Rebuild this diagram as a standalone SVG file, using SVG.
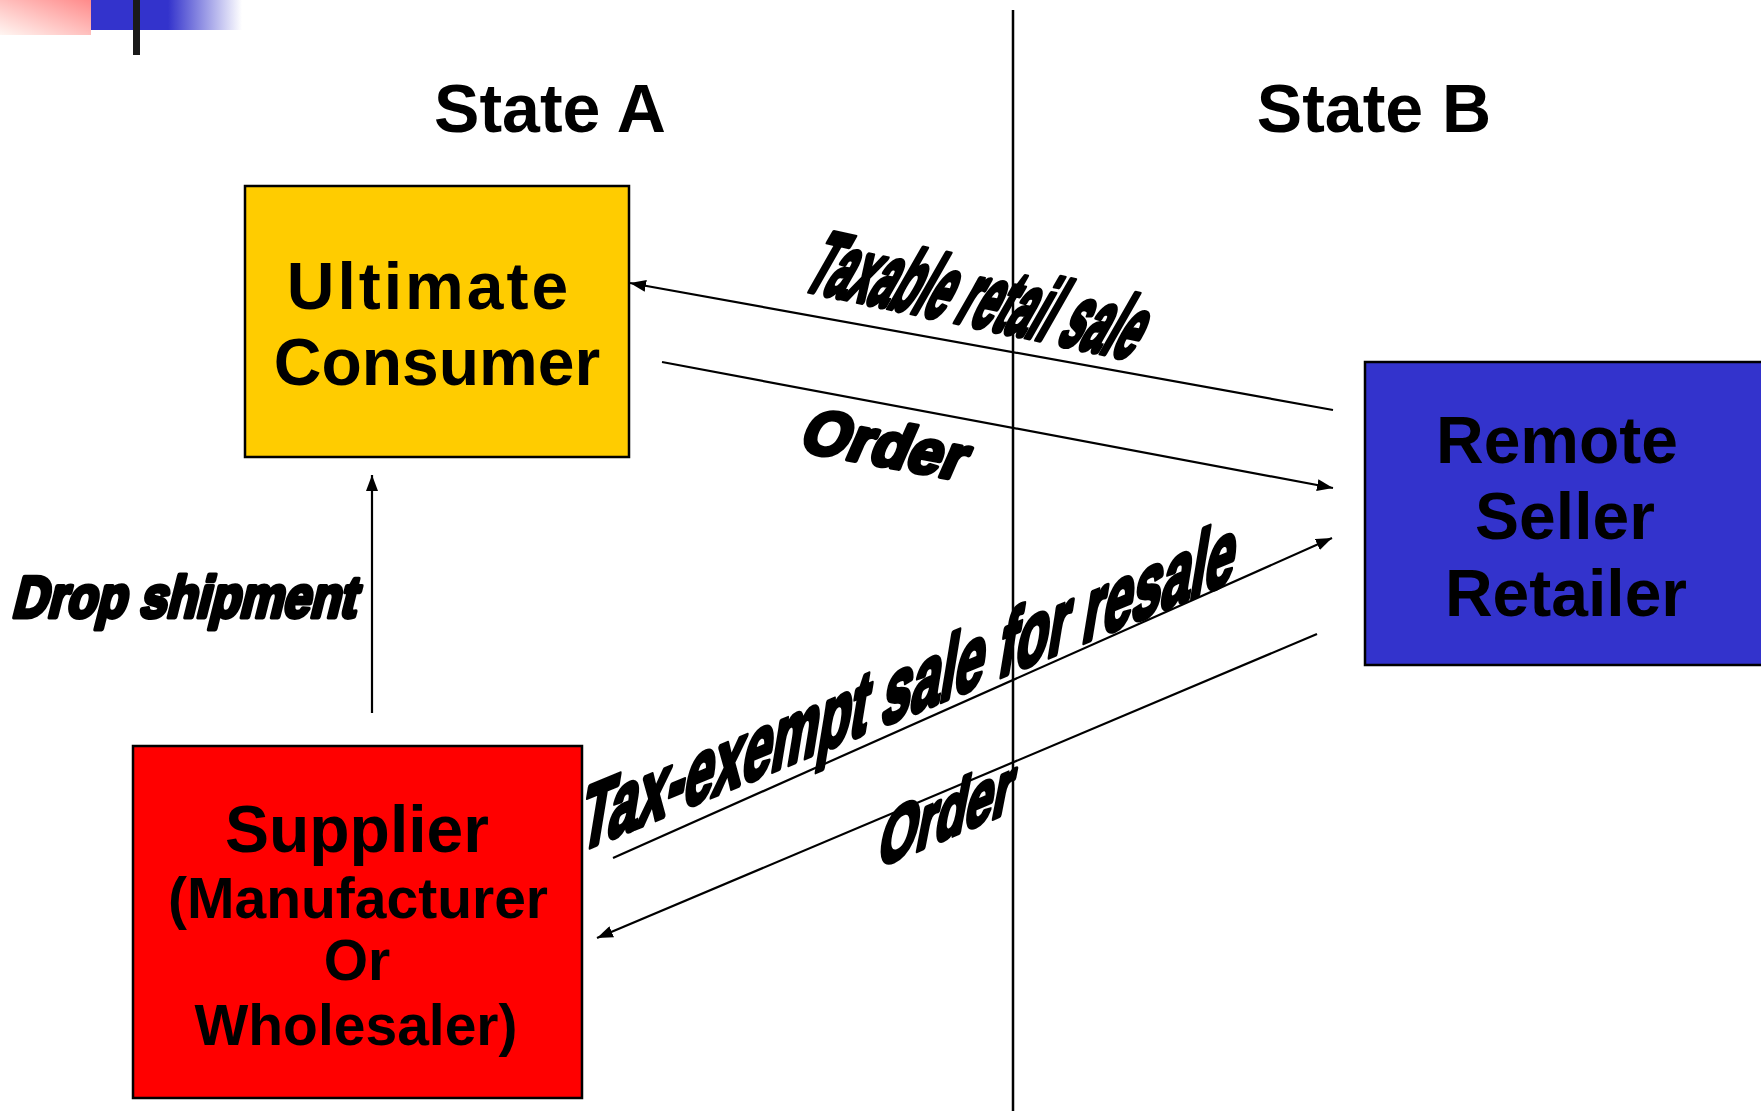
<svg xmlns="http://www.w3.org/2000/svg" width="1761" height="1111" viewBox="0 0 1761 1111">
<style>
.box{stroke:#000;stroke-width:2.5}
.t{font-family:"Liberation Sans",Arial,sans-serif;font-weight:bold;fill:#000;text-anchor:middle}
.big{font-size:66px}
.mid{font-size:57px}
.wa{font-family:"Liberation Sans",Arial,sans-serif;font-weight:bold;fill:#000;stroke:#000;stroke-width:4.5;stroke-linejoin:round;vector-effect:non-scaling-stroke}
.c{stroke:#000;stroke-width:2.2;fill:none}
</style>
<defs>
<linearGradient id="pink" x1="0" y1="1" x2="1" y2="0">
<stop offset="0" stop-color="#FFF6F2"/>
<stop offset="1" stop-color="#FF8A8A"/>
</linearGradient>
<linearGradient id="bluefade" x1="0" y1="0" x2="1" y2="0">
<stop offset="0" stop-color="#3333CC"/>
<stop offset="1" stop-color="#3333CC" stop-opacity="0"/>
</linearGradient>
<marker id="ah" viewBox="0 0 16 12" refX="16" refY="6" markerWidth="16" markerHeight="12" markerUnits="userSpaceOnUse" orient="auto">
<path d="M0,0 L16,6 L0,12 z" fill="#000"/>
</marker>
</defs>
<rect width="1761" height="1111" fill="#fff"/>
<g id="decor">
<rect x="0" y="0" width="91" height="35" fill="url(#pink)"/>
<rect x="91" y="0" width="77" height="30" fill="#3333CC"/>
<rect x="168" y="0" width="74" height="30" fill="url(#bluefade)"/>
<rect x="133" y="0" width="7" height="55" fill="#1a1a1a"/>
<line x1="1013" y1="10" x2="1013" y2="1111" stroke="#000" stroke-width="2.5"/>
</g>
<g id="stateA"><text class="t" font-size="68" x="550" y="132">State A</text></g>
<g id="stateB"><text class="t" font-size="68" x="1374" y="132">State B</text></g>
<g id="consumer">
<rect class="box" x="245" y="186" width="384" height="271" fill="#FFCC00"/>
<text class="t big" x="429" y="309" letter-spacing="3">Ultimate</text>
<text class="t big" x="437" y="385">Consumer</text>
</g>
<g id="remote">
<rect class="box" x="1365" y="362" width="410" height="303" fill="#3333CC"/>
<text class="t big" x="1557" y="463">Remote</text>
<text class="t big" x="1565" y="539">Seller</text>
<text class="t big" x="1566" y="616">Retailer</text>
</g>
<g id="supplier">
<rect class="box" x="133" y="746" width="449" height="352" fill="#FF0000"/>
<text class="t big" x="357" y="852">Supplier</text>
<text class="t mid" x="358" y="918">(Manufacturer</text>
<text class="t mid" x="357" y="980">Or</text>
<text class="t mid" x="356" y="1045">Wholesaler)</text>
</g>
<g id="connectors">
<line class="c" x1="1333" y1="410" x2="630" y2="283" marker-end="url(#ah)"/>
<line class="c" x1="662" y1="362" x2="1333" y2="488" marker-end="url(#ah)"/>
<line class="c" x1="613" y1="858" x2="1332" y2="538" marker-end="url(#ah)"/>
<line class="c" x1="1317" y1="634" x2="597" y2="938" marker-end="url(#ah)"/>
<line class="c" x1="372" y1="713" x2="372" y2="475" marker-end="url(#ah)"/>
</g>
<g id="labels">
<text class="wa" font-size="92" transform="translate(800,289) skewY(12) skewX(-27) scale(0.42,1)">Taxable retail sale</text>
<text class="wa" font-size="64" transform="translate(797,450) skewY(10.5) skewX(-22) scale(0.93,1)">Order</text>
<text class="wa" font-size="58" transform="translate(11,617) skewX(-14) scale(0.84,1)">Drop shipment</text>
<text class="wa" font-size="88" transform="translate(578,852) skewY(-22.5) skewX(-10) scale(0.595,1)">Tax-exempt sale for resale</text>
<text class="wa" font-size="74" transform="translate(876,868) skewY(-23) skewX(-12) scale(0.66,1)">Order</text>
</g>
</svg>
